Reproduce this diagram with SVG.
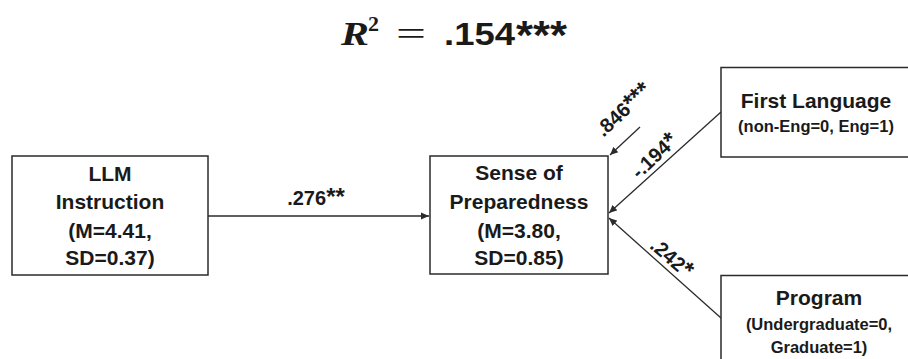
<svg xmlns="http://www.w3.org/2000/svg" width="908" height="359" viewBox="0 0 908 359">
  <style>
    .box { fill: #ffffff; stroke: #2b2b2b; stroke-width: 1.5; }
    .edge { stroke: #2b2b2b; stroke-width: 1.3; fill: none; marker-end: url(#arrow); }
    .head { font-family: "Liberation Sans", Arial, sans-serif; font-weight: bold; font-size: 21px; fill: #1a1a1a; text-anchor: middle; }
    .sub { font-family: "Liberation Sans", Arial, sans-serif; font-weight: bold; font-size: 16.5px; fill: #1a1a1a; text-anchor: middle; }
    .coef { font-family: "Liberation Sans", Arial, sans-serif; font-weight: bold; font-size: 20px; fill: #1a1a1a; text-anchor: middle; }
    .star { font-size: 24px; }
  </style>
  <defs>
    <marker id="arrow" viewBox="0 0 10 10" refX="10" refY="5" markerWidth="8" markerHeight="8" markerUnits="userSpaceOnUse" orient="auto">
      <path d="M0,0.5 L10,5 L0,9.5 Z" fill="#2b2b2b"/>
    </marker>
  </defs>
  <rect width="908" height="359" fill="#ffffff"/>

  <!-- model fit -->
  <g id="r-squared">
    <text x="341" y="45" font-family="'Liberation Serif', 'Times New Roman', serif" font-style="italic" font-weight="bold" font-size="34" fill="#1a1a1a" textLength="28" lengthAdjust="spacingAndGlyphs">R</text>
    <text x="368" y="31" font-family="'Liberation Serif', 'Times New Roman', serif" font-weight="bold" font-size="22" fill="#1a1a1a">2</text>
    <text x="396" y="45" font-family="'Liberation Serif', 'Times New Roman', serif" font-size="34" fill="#1a1a1a" textLength="30" lengthAdjust="spacingAndGlyphs">=</text>
    <text x="444" y="45" font-family="'Liberation Sans', Arial, sans-serif" font-weight="bold" font-size="32" fill="#1a1a1a" textLength="71" lengthAdjust="spacingAndGlyphs">.154</text>
    <text x="516" y="49" font-family="'Liberation Sans', Arial, sans-serif" font-weight="bold" font-size="40" fill="#1a1a1a" textLength="51" lengthAdjust="spacingAndGlyphs">***</text>
  </g>

  <!-- paths -->
  <g id="connectors">
    <line class="edge" x1="208" y1="216" x2="429" y2="216"/>
    <line class="edge" x1="640" y1="127" x2="610" y2="155"/>
    <line class="edge" x1="721" y1="112" x2="609" y2="213"/>
    <line class="edge" x1="721" y1="318" x2="609" y2="218"/>
    <text class="coef" x="316" y="205">.276<tspan class="star">**</tspan></text>
    <text class="coef" transform="translate(628,115) rotate(-43)">.846<tspan class="star">***</tspan></text>
    <text class="coef" transform="translate(659,161) rotate(-43)">-.194<tspan class="star">*</tspan></text>
    <text class="coef" transform="translate(667,263) rotate(41)">.242<tspan class="star">*</tspan></text>
  </g>

  <g id="llm-instruction">
    <rect class="box" x="12" y="156" width="196" height="119"/>
    <text class="head" x="110" y="181">LLM</text>
    <text class="head" x="110" y="209">Instruction</text>
    <text class="head" x="110" y="238">(M=4.41,</text>
    <text class="head" x="110" y="265">SD=0.37)</text>
  </g>

  <g id="sense-of-preparedness">
    <rect class="box" x="430" y="156" width="178" height="118"/>
    <text class="head" x="519" y="180">Sense of</text>
    <text class="head" x="519" y="209">Preparedness</text>
    <text class="head" x="519" y="238">(M=3.80,</text>
    <text class="head" x="519" y="265">SD=0.85)</text>
  </g>

  <g id="first-language">
    <rect class="box" x="721" y="67.5" width="200" height="89.5"/>
    <text class="head" x="816" y="108" font-size="20.5">First Language</text>
    <text class="sub" x="816" y="132">(non-Eng=0, Eng=1)</text>
  </g>

  <g id="program">
    <rect class="box" x="721" y="275.5" width="200" height="95"/>
    <text class="head" x="819" y="305" font-size="20.5">Program</text>
    <text class="sub" x="819" y="330">(Undergraduate=0,</text>
    <text class="sub" x="819" y="353">Graduate=1)</text>
  </g>
</svg>
